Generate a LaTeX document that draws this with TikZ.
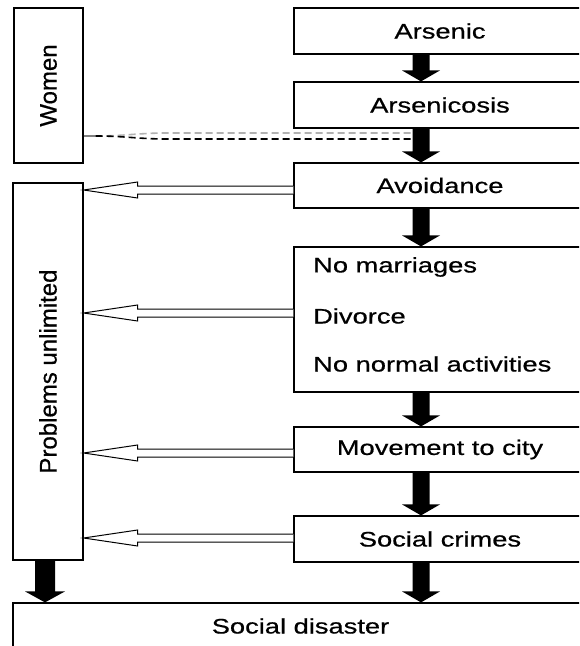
\documentclass[tikz,border=0pt]{standalone}
\usepackage{fontspec}
\setmainfont{Liberation Sans}[FakeStretch=1.3,FakeBold=0.6]
\newfontfamily\rotfont{Liberation Sans}[FakeBold=0.6]
\usetikzlibrary{calc}
\newcommand\fatarr[5]{% src, dst, x-coordinate, shaft half width, head half width
  \fill ($(#1.south -| #3)+(-#4,0)$) -- ($(#2.north -| #3)+(-#4,-11)$)
    -- ($(#2.north -| #3)+(-#5,-11)$) -- (#2.north -| #3)
    -- ($(#2.north -| #3)+(#5,-11)$) -- ($(#2.north -| #3)+(#4,-11)$)
    -- ($(#1.south -| #3)+(#4,0)$) -- cycle;}
\newcommand\hollowarr[2]{% source node, vertical offset
  \coordinate (hs) at ($(#1.west)+(0,#2)$);
  \coordinate (ht) at (hs -| prob.east);
  \draw[hollow] ($(hs)+(0,-4)$) -- ($(ht)+(54,-4)$) -- ($(ht)+(54,-8)$)
    -- (ht) -- ($(ht)+(54,8)$) -- ($(ht)+(54,4)$) -- ($(hs)+(0,4)$);}
\begin{document}
\begin{tikzpicture}[x=1pt,y=-1pt,
  box/.style={draw, line width=1.2pt, rectangle, inner sep=0pt,
    font=\fontsize{21}{25}\selectfont},
  rbox/.style={box, minimum width=292pt},
  txt/.style={font=\fontsize{21}{25}\selectfont, inner sep=0pt},
  rtxt/.style={font=\rotfont\fontsize{24}{28}\selectfont, rotate=90, inner sep=0pt},
  hollow/.style={draw, line width=1pt, fill=white, line join=miter},
  dashg/.style={draw=gray!60, line width=1.6pt, dash pattern=on 7pt off 4pt},
  dashk/.style={draw=black, line width=1.6pt, dash pattern=on 7pt off 4pt}]
\useasboundingbox (0,0) rectangle (579,646);
\fill[white] (0,0) rectangle (579,646);
\clip (0,0) rectangle (579,646);

% right column
\node[rbox, minimum height=46pt] (ars)  at (440,31)    {Arsenic};
\node[rbox, minimum height=46pt] (arsc) at (440,105)   {Arsenicosis};
\node[rbox, minimum height=45pt] (avo)  at (440,185.5) {Avoidance};
\node[rbox, minimum height=145pt] (lst) at (440,319.5) {};
\node[txt, anchor=west] (l1) at (313,267) {No marriages};
\node[txt, anchor=west] (l2) at (313,316) {Divorce};
\node[txt, anchor=west] (l3) at (313,364) {No normal activities};
\node[rbox, minimum height=45pt] (mov)  at (440,449.5) {Movement to city};
\node[rbox, minimum height=46pt] (crim) at (440,539)   {Social crimes};

% left column
\node[box, minimum width=69pt, minimum height=155pt] (wom) at (48.5,85.5) {};
\node[rtxt] (womt) at (wom.center) {Women};
\node[box, minimum width=70pt, minimum height=377pt] (prob) at (48,371.5) {};
\node[rtxt] (probt) at (prob.center) {Problems unlimited};

% bottom
\node[box, minimum width=575pt, minimum height=46pt] (dis) at (300.5,626) {Social disaster};

% thick black arrows
\coordinate (cx) at (421,0);
\coordinate (cl) at (45,0);
\fatarr{ars}{arsc}{cx}{8.5}{19}
\fatarr{arsc}{avo}{cx}{8.5}{19}
\fatarr{avo}{lst}{cx}{8.5}{19}
\fatarr{lst}{mov}{cx}{8.5}{19}
\fatarr{mov}{crim}{cx}{8.5}{19}
\fatarr{crim}{dis}{cx}{8.5}{19}
\fatarr{prob}{dis}{cl}{10}{20}

% hollow arrows
\hollowarr{avo}{4.5}
\hollowarr{lst}{-6.5}
\hollowarr{mov}{3.5}
\hollowarr{crim}{-1}

% dashed link Women -> Arsenicosis arrow
\coordinate (d0) at ($(wom.east)+(0,50.5)$);
\coordinate (d1) at ($(cx |- d0)+(-8.5,0)$);
\draw[line width=1.4pt, gray] (d0) -- ++(12,0);
\draw[dashg] ($(d0)+(12,0)$) .. controls +(30,0) and +(-30,0) .. ($(d0)+(84,-3)$) -- ($(d1)+(0,-3)$);
\draw[dashk] ($(d0)+(12,0)$) .. controls +(30,0) and +(-30,0) .. ($(d0)+(84,3)$) -- ($(d1)+(0,3)$);
\end{tikzpicture}
\end{document}
